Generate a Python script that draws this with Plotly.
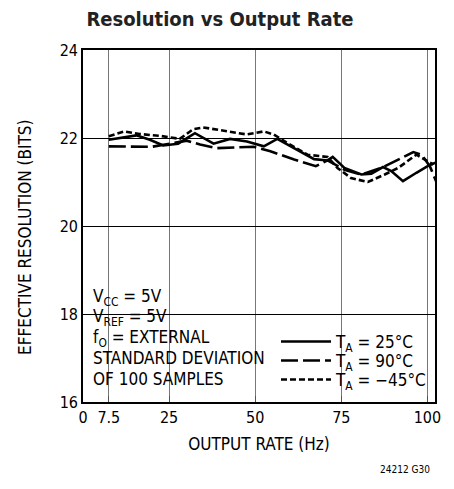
import plotly.graph_objects as go

# Data (output rate in Hz, effective resolution in bits)
x_25 = [7.5, 15.5, 19.4, 23.3, 27.6, 32.5, 37.9, 42.7, 47.6, 52.5, 56.4, 61.3, 67.1, 71.0, 72.5, 75.9, 80.8, 83.7, 87.1, 89.5, 92.9, 96.8, 100.3, 102.7]
y_25 = [21.96, 22.06, 21.96, 21.83, 21.87, 22.11, 21.87, 21.98, 21.92, 21.81, 21.98, 21.77, 21.52, 21.49, 21.57, 21.32, 21.17, 21.19, 21.34, 21.25, 21.02, 21.21, 21.37, 21.45]

x_90 = [7.5, 20.0, 25.2, 30.1, 34.0, 38.9, 49.6, 54.4, 61.3, 67.6, 71.0, 75.9, 80.8, 86.6, 90.5, 95.9, 98.3, 100.7, 102.7]
y_90 = [21.81, 21.80, 21.87, 21.94, 21.85, 21.77, 21.80, 21.70, 21.51, 21.36, 21.49, 21.28, 21.17, 21.32, 21.47, 21.68, 21.62, 21.36, 20.98]

x_m45 = [7.5, 12.0, 16.4, 22.3, 28.1, 32.0, 34.9, 47.6, 52.5, 55.4, 59.3, 65.2, 71.0, 73.9, 77.8, 82.7, 87.6, 91.5, 96.8, 100.3, 101.7]
y_m45 = [22.04, 22.15, 22.09, 22.05, 21.98, 22.20, 22.24, 22.08, 22.15, 22.08, 21.89, 21.62, 21.57, 21.32, 21.09, 21.00, 21.17, 21.32, 21.62, 21.47, 21.40]

x_ticks = [0, 7.5, 25, 50, 75, 100]
x_tick_labels = ["0", "7.5", "25", "50", "75", "100"]
y_ticks = [16, 18, 20, 22, 24]

series_names = ["T<sub>A</sub> = 25°C", "T<sub>A</sub> = 90°C", "T<sub>A</sub> = −45°C"]
notes = ["V<sub>CC</sub> = 5V", "V<sub>REF</sub> = 5V", "f<sub>O</sub> = EXTERNAL",
         "STANDARD DEVIATION", "OF 100 SAMPLES"]

FONT = "DejaVu Sans Condensed, Liberation Sans Narrow, Arial Narrow, sans-serif"

# page has an 8px body margin; plot area sits at page x 83..435, y 50..402
W, H = 446, 481
PL, PR, PT, PB = 83, 435, 50, 402


def px(xp):
    return (xp - PL) / (PR - PL)


def py(yp):
    return (PB - yp) / (PB - PT)


fig = go.Figure()
fig.add_trace(go.Scatter(x=x_25, y=y_25, mode="lines", name=series_names[0], legend="legend",
                         line=dict(color="black", width=2.6, dash="solid")))
fig.add_trace(go.Scatter(x=x_90, y=y_90, mode="lines", name=series_names[1], legend="legend2",
                         line=dict(color="black", width=2.6, dash="17px,5px")))
fig.add_trace(go.Scatter(x=x_m45, y=y_m45, mode="lines", name=series_names[2], legend="legend3",
                         line=dict(color="black", width=2.6, dash="6px,3px")))

# white masks that hide the grid behind the text blocks (above grid, below traces)
masks = [(84, 215, 287, 400), (215, 268, 345, 400), (268, 434, 322, 400)]
for x0, x1, y0, y1 in masks:
    fig.add_shape(type="rect", xref="paper", yref="paper",
                  x0=px(x0), x1=px(x1), y0=py(y1), y1=py(y0),
                  fillcolor="white", line=dict(width=0), layer="between")

note_rows = [297, 317, 338, 358, 379]
for txt, yp in zip(notes, note_rows):
    fig.add_annotation(text=txt, xref="paper", yref="paper",
                       x=px(91), y=py(yp),
                       xanchor="left", yanchor="middle", showarrow=False,
                       font=dict(family=FONT, size=17, color="black"))

fig.add_annotation(text="24212 G30", xref="paper", yref="paper",
                   x=px(432), y=py(469),
                   xanchor="right", yanchor="middle", showarrow=False,
                   font=dict(family=FONT, size=10, color="black"))

fig.add_annotation(text="EFFECTIVE RESOLUTION (BITS)", xref="paper", yref="paper",
                   x=px(25), y=py(237), textangle=-90,
                   xanchor="center", yanchor="middle", showarrow=False,
                   font=dict(family=FONT, size=17, color="black"))

leg_common = dict(xanchor="left", yanchor="middle", bgcolor="rgba(0,0,0,0)", itemwidth=50,
                  font=dict(family=FONT, size=17, color="black"),
                  itemclick=False, itemdoubleclick=False)
legend_rows = [342, 361, 380]

fig.update_layout(
    width=W, height=H,
    margin=dict(l=PL - 8, r=(8 + W) - PR, t=PT - 8, b=(8 + H) - PB),
    paper_bgcolor="white", plot_bgcolor="white",
    title=dict(text="<b>Resolution vs Output Rate</b>", x=(220 - 8) / W, xanchor="center",
               y=1 - (19 - 8) / H, yanchor="middle",
               font=dict(family=FONT, size=20, color="#222")),
    font=dict(family=FONT, size=16, color="black"),
    showlegend=True,
    legend=dict(x=px(276), y=py(legend_rows[0]), **leg_common),
    legend2=dict(x=px(276), y=py(legend_rows[1]), **leg_common),
    legend3=dict(x=px(276), y=py(legend_rows[2]), **leg_common),
    xaxis=dict(range=[0, 102.2], tickvals=x_ticks, ticktext=x_tick_labels,
               showgrid=True, gridcolor="#777", gridwidth=1.3,
               showline=True, linecolor="black", linewidth=1.6, mirror=True,
               ticks="inside", ticklen=6, tickcolor="#555", zeroline=False,
               title=dict(text="OUTPUT RATE (Hz)", standoff=12,
                          font=dict(family=FONT, size=17)),
               tickfont=dict(family=FONT, size=16)),
    yaxis=dict(range=[16, 24], tickvals=y_ticks,
               showgrid=True, gridcolor="black", gridwidth=1,
               showline=True, linecolor="black", linewidth=1.6, mirror=True,
               ticks="", zeroline=False,
               tickfont=dict(family=FONT, size=16)),
)

fig.write_html("out.html")
